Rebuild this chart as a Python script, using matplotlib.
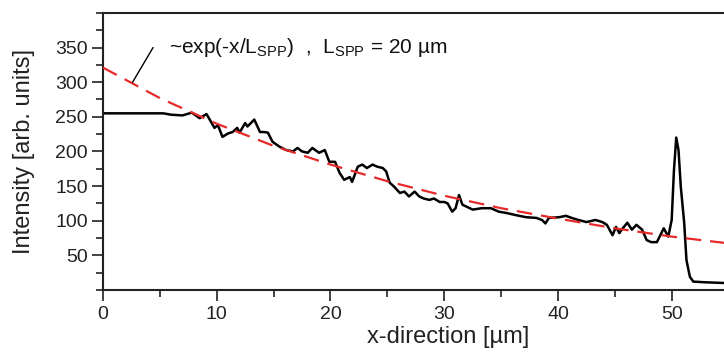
import matplotlib
matplotlib.use("Agg")
import matplotlib.pyplot as plt
from matplotlib.ticker import MultipleLocator

plt.rcParams['font.family'] = ['Liberation Sans', 'DejaVu Sans']
plt.rcParams['mathtext.fontset'] = 'custom'
plt.rcParams['mathtext.rm'] = 'Liberation Sans'

pos_um = [0, 5.3, 6.0, 7.0, 7.8, 8.5, 9.1, 9.8, 10.1, 10.5,
          11.0, 11.4, 11.8, 12.0, 12.5, 12.7, 13.3, 13.8, 14.2, 14.5,
          14.9, 15.5, 16.1, 16.7, 17.1, 17.5, 18.0, 18.4, 19.0, 19.5,
          19.9, 20.4, 20.8, 21.2, 21.7, 21.9, 22.4, 22.8, 23.2, 23.7,
          24.1, 24.6, 24.9, 25.2, 25.6, 26.1, 26.5, 26.9, 27.4, 27.8,
          28.2, 28.7, 29.1, 29.6, 30.0, 30.3, 30.7, 31.0, 31.3, 31.6,
          32.0, 32.5, 33.3, 34.1, 34.8, 35.5, 36.3, 37.2, 38.1, 38.6,
          38.9, 39.2, 40.1, 40.7, 41.2, 41.8, 42.5, 43.3, 43.9, 44.3,
          44.8, 45.1, 45.4, 45.6, 46.1, 46.5, 46.9, 47.4, 47.8, 48.2,
          48.7, 49.0, 49.3, 49.7, 50.0, 50.2, 50.4, 50.6, 50.8, 51.1,
          51.3, 51.6, 51.9, 53.0, 54.6]
intensity = [255, 255, 253, 252, 256, 248, 254, 234, 238, 221,
             226, 228, 234, 227, 241, 236, 246, 228, 228, 227,
             214, 207, 202, 200, 205, 200, 198, 205, 198, 202,
             185, 185, 169, 159, 163, 156, 178, 181, 176, 181,
             178, 176, 171, 155, 149, 140, 142, 135, 142, 135,
             132, 130, 132, 127, 127, 125, 113, 118, 137, 123,
             120, 116, 118, 118, 113, 111, 108, 105, 104, 101,
             96, 104, 105, 107, 104, 101, 98, 101, 98, 94,
             79, 91, 82, 87, 97, 87, 94, 87, 72, 69,
             69, 79, 89, 77, 101, 173, 220, 202, 149, 97,
             43, 19, 12, 11, 10]

# exponential fit, red dashed
fit_x = [0, 5, 10, 15, 20, 25, 30, 35, 40, 45, 50, 54.6]
fit_y = [321, 277, 240, 208, 181, 157, 136, 118, 103, 89, 77, 68]

x_ticks = [0, 10, 20, 30, 40, 50]
y_ticks = [50, 100, 150, 200, 250, 300, 350]

fig = plt.figure(figsize=(7.24, 3.54), dpi=100)
ax = fig.add_axes([0.1423, 0.181, 0.8577, 0.7825])

ax.plot(fit_x, fit_y, color='#e62a2a', lw=1.6, dashes=(7, 4), zorder=3)
ax.plot(pos_um, intensity, color='black', lw=1.8, zorder=2)

ax.set_xlim(0, 54.6)
ax.set_ylim(0, 400)
ax.set_xticks(x_ticks)
ax.set_yticks(y_ticks)
ax.xaxis.set_minor_locator(MultipleLocator(5))
ax.yaxis.set_minor_locator(MultipleLocator(25))
ax.tick_params(which='both', direction='out', width=1.2, labelsize=14, colors='#222222')
ax.tick_params(which='major', length=8)
ax.tick_params(which='minor', length=5)
ax.tick_params(axis='y', pad=3)

for side in ['left', 'bottom', 'top']:
    ax.spines[side].set_linewidth(1.5)
    ax.spines[side].set_color('#222222')
ax.spines['right'].set_visible(False)

ax.set_xlabel('x-direction [µm]', fontsize=17, color='#222222')
ax.xaxis.set_label_coords(0.556, -0.13)
ax.set_ylabel('Intensity [arb. units]', fontsize=17, color='#222222')
ax.yaxis.set_label_coords(-0.11, 0.5)

# pointer line from the label to the fit curve
ax.annotate('', xy=(2.6, 300), xytext=(4.4, 350),
            arrowprops=dict(arrowstyle='-', color='black', lw=1.0,
                            shrinkA=0, shrinkB=0))
ax.text(5.8, 350, r'~exp(-x/L$_{\rm SPP}$)  ,  L$_{\rm SPP}$ = 20 µm',
        fontsize=15, va='center', color='#111111')

fig.savefig('out.png', dpi=100)
